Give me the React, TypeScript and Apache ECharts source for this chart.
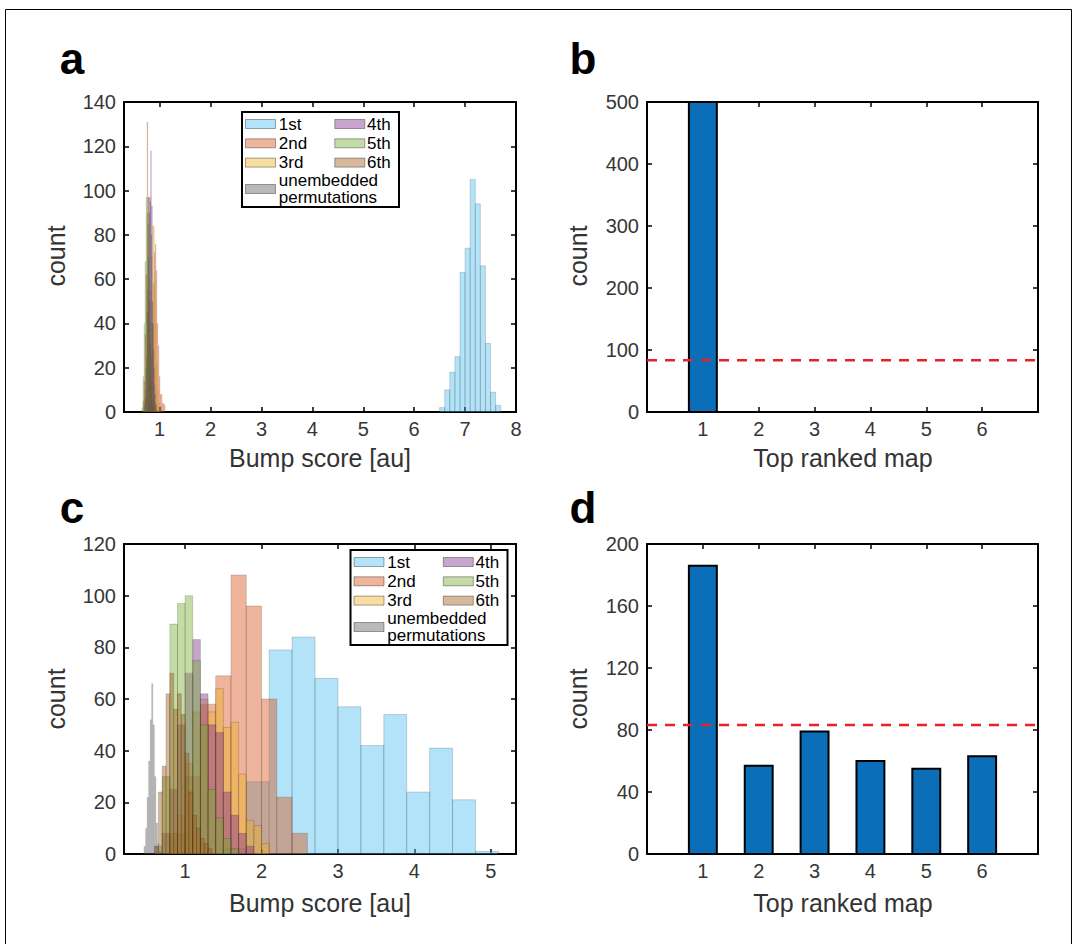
import React, { useEffect, useRef } from "react";
import * as echarts from "echarts";

const FONT = '"Liberation Sans", Arial, Helvetica, sans-serif';

// ---------- Panel a : histograms (bin start, bin width, counts) ----------
const aFirstStart = 6.5, aFirstWidth = 0.1;
const aFirstCounts = [2, 10, 18, 25, 63, 74, 105, 94, 66, 31, 9, 3];
const aSecondStart = 0.79, aSecondWidth = 0.02;
const aSecondCounts = [5, 12, 25, 40, 58, 72, 76, 64, 40, 30, 16, 8, 8, 4, 4, 3];
const aThirdStart = 0.76, aThirdWidth = 0.02;
const aThirdCounts = [5, 15, 35, 55, 70, 84, 84, 60, 40, 22, 10, 4, 2];
const aFourthStart = 0.7, aFourthWidth = 0.02;
const aFourthCounts = [4, 10, 25, 55, 97, 97, 118, 93, 40, 20, 8, 3];
const aFifthStart = 0.65, aFifthWidth = 0.02;
const aFifthCounts = [2, 16, 40, 68, 97, 90, 85, 60, 40, 20, 10, 5, 2, 1];
const aSixthStart = 0.67, aSixthWidth = 0.02;
const aSixthCounts = [5, 14, 35, 62, 131, 97, 50, 30, 14, 6, 2];
const aPermStart = 0.71, aPermWidth = 0.02;
const aPermCounts = [6, 20, 45, 70, 90, 95, 80, 50, 28, 12, 4];

// ---------- Panel c : histograms ----------
const cFirstStart = 1.5, cFirstWidth = 0.3;
const cFirstCounts = [2, 28, 79, 84, 68, 57, 42, 54, 24, 41, 21, 1];
const cSecondStart = 0.8, cSecondWidth = 0.2;
const cSecondCounts = [8, 30, 58, 69, 108, 96, 60, 22, 8];
const cThirdStart = 0.8, cThirdWidth = 0.1;
const cThirdCounts = [5, 15, 35, 55, 60, 55, 64, 49, 51, 31, 13, 11, 4];
const cFourthStart = 0.7, cFourthWidth = 0.1;
const cFourthCounts = [8, 25, 50, 70, 83, 62, 50, 47, 24, 15, 8, 3];
const cFifthStart = 0.6, cFifthWidth = 0.1;
const cFifthCounts = [3, 30, 89, 97, 100, 75, 50, 25, 14, 6, 2];
const cSixthStart = 0.6, cSixthWidth = 0.05;
const cSixthCounts = [3, 24, 34, 62, 70, 56, 62, 54, 39, 24, 15, 10, 6, 4, 2];
const cPermStart = 0.46, cPermWidth = 0.02;
const cPermCounts = [3, 10, 22, 36, 52, 66, 50, 30, 12, 4, 1];

// ---------- Panels b, d : top ranked map ----------
const rankCategories = [1, 2, 3, 4, 5, 6];
const bCounts = [500, 0, 0, 0, 0, 0];
const dCounts = [186, 57, 79, 60, 55, 63];
const chanceLevel = 83.3;

// ---------- Ticks ----------
const aXTicks = [1, 2, 3, 4, 5, 6, 7, 8];
const cXTicks = [1, 2, 3, 4, 5];
const rankTicks = [1, 2, 3, 4, 5, 6];

const legendLabels = ["1st", "2nd", "3rd", "4th", "5th", "6th", "unembedded", "permutations"];
const histFills = [
  "rgba(77,190,238,0.43)",
  "rgba(217,83,25,0.43)",
  "rgba(237,177,32,0.43)",
  "rgba(126,47,142,0.43)",
  "rgba(119,172,48,0.43)",
  "rgba(160,90,20,0.43)",
  "rgba(100,100,100,0.45)",
];

function bins(start: number, width: number, counts: number[]) {
  return counts.map((c, i) => [
    +(start + i * width).toFixed(4),
    +(start + (i + 1) * width).toFixed(4),
    c,
  ]);
}

const histRender = (fill: string, stroke: string, lw: number) => (_p: any, api: any) => {
  const s = api.value(0), e = api.value(1), c = api.value(2);
  if (!c) return null;
  const p0 = api.coord([s, 0]);
  const p1 = api.coord([e, c]);
  return {
    type: "rect",
    shape: { x: p0[0], y: p1[1], width: p1[0] - p0[0], height: p0[1] - p1[1] },
    style: { fill, stroke, lineWidth: lw },
  };
};

const barRender = (_p: any, api: any) => {
  const x = api.value(0), v = api.value(1);
  if (!v) return null;
  const p0 = api.coord([x - 0.25, 0]);
  const p1 = api.coord([x + 0.25, v]);
  return {
    type: "rect",
    shape: { x: p0[0], y: p1[1], width: p1[0] - p0[0], height: p0[1] - p1[1] },
    style: { fill: "#0a6fb8", stroke: "#000", lineWidth: 2 },
  };
};

const grids = [
  { left: 124, top: 102, width: 392, height: 310 },
  { left: 647, top: 102, width: 391, height: 310 },
  { left: 124, top: 544, width: 392, height: 310 },
  { left: 647, top: 544, width: 391, height: 310 },
];

function xAxis(gi: number, min: number, max: number, ticks: number[], pos: "bottom" | "top") {
  return {
    type: "value",
    gridIndex: gi,
    position: pos,
    min,
    max,
    axisLine: { show: true, onZero: false, lineStyle: { color: "#000", width: 2 } },
    axisTick: { show: true, inside: true, length: 5, customValues: ticks, lineStyle: { color: "#000", width: 1.5 } },
    axisLabel: {
      show: pos === "bottom",
      customValues: ticks,
      margin: 7,
      color: "#363636",
      fontSize: 20,
      fontFamily: FONT,
    },
    splitLine: { show: false },
  };
}

function yAxis(gi: number, max: number, interval: number, pos: "left" | "right") {
  return {
    type: "value",
    gridIndex: gi,
    position: pos,
    min: 0,
    max,
    interval,
    axisLine: { show: true, onZero: false, lineStyle: { color: "#000", width: 2 } },
    axisTick: { show: true, inside: true, length: 5, lineStyle: { color: "#000", width: 1.5 } },
    axisLabel: { show: pos === "left", margin: 8, color: "#363636", fontSize: 20, fontFamily: FONT },
    splitLine: { show: false },
  };
}

function histSeries(gi: number, data: number[][], idx: number, narrow: boolean) {
  return {
    type: "custom",
    xAxisIndex: gi,
    yAxisIndex: gi,
    renderItem: histRender(histFills[idx], narrow ? "rgba(0,0,0,0.10)" : "rgba(0,0,0,0.2)", narrow ? 0.4 : 0.8),
    encode: { x: [0, 1], y: 2 },
    data,
    z: 2 + idx,
  };
}

function legendGraphic(bx: number, by: number) {
  const els: any[] = [
    {
      type: "rect",
      z: 100,
      shape: { x: bx, y: by, width: 157, height: 95 },
      style: { fill: "#fff", stroke: "#000", lineWidth: 2 },
    },
  ];
  const rowsY = [12, 31.3, 50.6];
  for (let i = 0; i < 7; i++) {
    let sx: number, cy: number;
    if (i < 3) {
      sx = bx + 3.5; cy = by + rowsY[i];
    } else if (i < 6) {
      sx = bx + 92.8; cy = by + rowsY[i - 3];
    } else {
      sx = bx + 3.5; cy = by + 77;
    }
    els.push({
      type: "rect",
      z: 101,
      shape: { x: sx, y: cy - 4.5, width: 30, height: 9 },
      style: { fill: "#fff", stroke: "none" },
    });
    els.push({
      type: "rect",
      z: 102,
      shape: { x: sx, y: cy - 4.5, width: 30, height: 9 },
      style: { fill: histFills[i], stroke: "rgba(0,0,0,0.35)", lineWidth: 1 },
    });
  }
  legendLabels.forEach((lab, i) => {
    let tx: number, cy: number;
    if (i < 3) {
      tx = bx + 36.8; cy = by + rowsY[i];
    } else if (i < 6) {
      tx = bx + 125; cy = by + rowsY[i - 3];
    } else {
      tx = bx + 36.8; cy = by + (i === 6 ? 68 : 85.5);
    }
    els.push({
      type: "text",
      z: 102,
      x: tx,
      y: cy,
      style: {
        text: lab,
        fontSize: 17,
        fontFamily: FONT,
        fill: "#000",
        textAlign: "left",
        textVerticalAlign: "middle",
      },
    });
  });
  return els;
}

function textEl(text: string, x: number, y: number, size: number, opts: any = {}) {
  return {
    type: "text",
    z: 100,
    x,
    y,
    rotation: opts.rotation || 0,
    style: {
      text,
      fontSize: size,
      fontFamily: FONT,
      fontWeight: opts.bold ? "bold" : "normal",
      fill: opts.color || "#333",
      textAlign: opts.align || "center",
      textVerticalAlign: "middle",
    },
  };
}

export default function App() {
  const ref = useRef<HTMLDivElement>(null);
  useEffect(() => {
    const chart = echarts.init(ref.current!, null, { renderer: "svg" });
    const aHist = [
      bins(aFirstStart, aFirstWidth, aFirstCounts),
      bins(aSecondStart, aSecondWidth, aSecondCounts),
      bins(aThirdStart, aThirdWidth, aThirdCounts),
      bins(aFourthStart, aFourthWidth, aFourthCounts),
      bins(aFifthStart, aFifthWidth, aFifthCounts),
      bins(aSixthStart, aSixthWidth, aSixthCounts),
      bins(aPermStart, aPermWidth, aPermCounts),
    ];
    const cHist = [
      bins(cFirstStart, cFirstWidth, cFirstCounts),
      bins(cSecondStart, cSecondWidth, cSecondCounts),
      bins(cThirdStart, cThirdWidth, cThirdCounts),
      bins(cFourthStart, cFourthWidth, cFourthCounts),
      bins(cFifthStart, cFifthWidth, cFifthCounts),
      bins(cSixthStart, cSixthWidth, cSixthCounts),
      bins(cPermStart, cPermWidth, cPermCounts),
    ];
    const series: any[] = [];
    aHist.forEach((d, i) => series.push(histSeries(0, d, i, i > 0)));
    cHist.forEach((d, i) => series.push(histSeries(2, d, i, i === 6)));
    [[1, bCounts], [3, dCounts]].forEach(([gi, counts]: any) => {
      series.push({
        type: "custom",
        xAxisIndex: gi,
        yAxisIndex: gi,
        renderItem: barRender,
        encode: { x: 0, y: 1 },
        data: rankCategories.map((c, i) => [c, counts[i]]),
        z: 3,
      });
      series.push({
        type: "line",
        xAxisIndex: gi,
        yAxisIndex: gi,
        data: [[0, chanceLevel], [7, chanceLevel]],
        symbol: "none",
        lineStyle: { color: "#e8212a", width: 2.5, type: [10, 8] },
        z: 10,
      });
    });

    const graphic: any[] = [
      {
        type: "rect",
        z: 0,
        shape: { x: 5.5, y: 9.5, width: 1066, height: 1000 },
        style: { fill: "none", stroke: "#000", lineWidth: 1 },
      },
      textEl("a", 72, 58, 44, { bold: true, color: "#000" }),
      textEl("b", 583, 58, 44, { bold: true, color: "#000" }),
      textEl("c", 72, 507, 44, { bold: true, color: "#000" }),
      textEl("d", 583, 507, 44, { bold: true, color: "#000" }),
      textEl("count", 56, 256, 25, { rotation: Math.PI / 2 }),
      textEl("count", 578, 256, 25, { rotation: Math.PI / 2 }),
      textEl("count", 56, 699, 25, { rotation: Math.PI / 2 }),
      textEl("count", 578, 699, 25, { rotation: Math.PI / 2 }),
      textEl("Bump score [au]", 320, 458, 25),
      textEl("Top ranked map", 843, 458, 25),
      textEl("Bump score [au]", 320, 903, 25),
      textEl("Top ranked map", 843, 903, 25),
      ...legendGraphic(242, 112),
      ...legendGraphic(350.5, 550),
    ];

    chart.setOption({
      animation: false,
      backgroundColor: "#fff",
      textStyle: { fontFamily: FONT },
      grid: grids,
      xAxis: [
        xAxis(0, 0.3, 8, aXTicks, "bottom"),
        xAxis(1, 0, 7, rankTicks, "bottom"),
        xAxis(2, 0.2, 5.33, cXTicks, "bottom"),
        xAxis(3, 0, 7, rankTicks, "bottom"),
        xAxis(0, 0.3, 8, aXTicks, "top"),
        xAxis(1, 0, 7, rankTicks, "top"),
        xAxis(2, 0.2, 5.33, cXTicks, "top"),
        xAxis(3, 0, 7, rankTicks, "top"),
      ],
      yAxis: [
        yAxis(0, 140, 20, "left"),
        yAxis(1, 500, 100, "left"),
        yAxis(2, 120, 20, "left"),
        yAxis(3, 200, 40, "left"),
        yAxis(0, 140, 20, "right"),
        yAxis(1, 500, 100, "right"),
        yAxis(2, 120, 20, "right"),
        yAxis(3, 200, 40, "right"),
      ],
      series,
      graphic,
    });
    return () => chart.dispose();
  }, []);
  return (
    <div
      ref={ref}
      style={{ position: "absolute", left: 0, top: 0, width: 1077, height: 944, background: "#fff" }}
    />
  );
}
